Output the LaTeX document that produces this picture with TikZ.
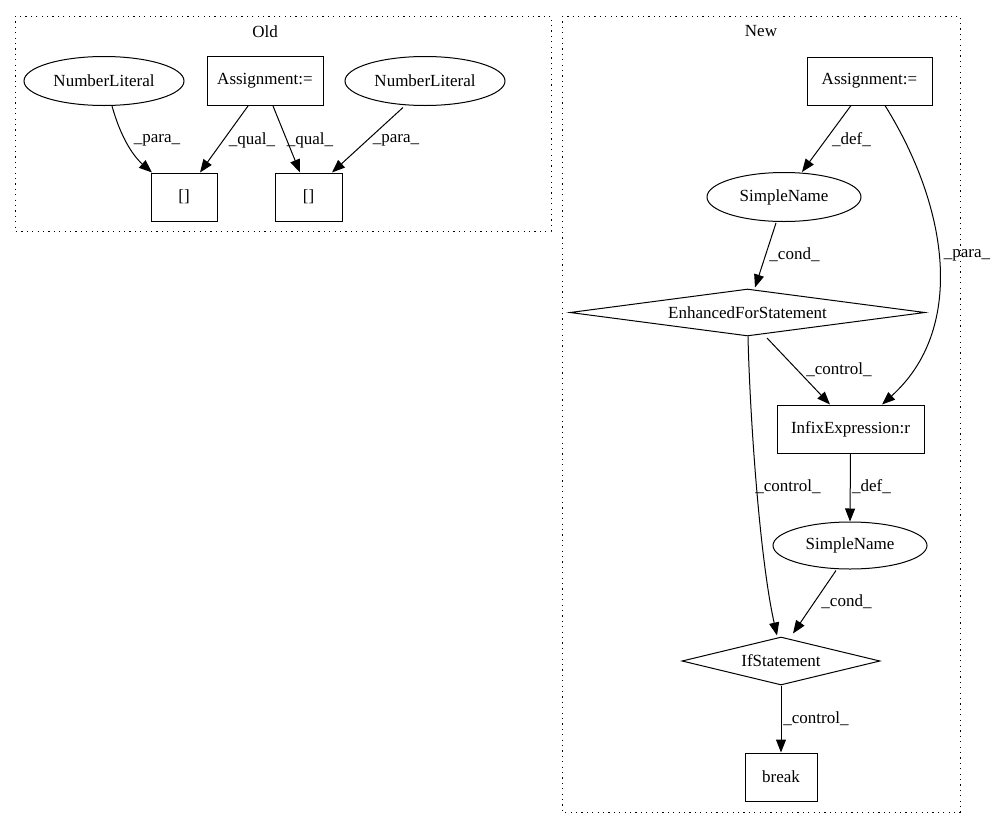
\documentclass[tikz,border=0pt]{standalone}
\usepackage{fontspec}
\setmainfont{Liberation Serif}
\usetikzlibrary{shapes.geometric,arrows.meta}
\begin{document}
\begin{tikzpicture}[x=1pt,y=-1pt,
  every node/.style={font=\fontsize{17}{19}\selectfont, inner sep=0pt},
  box/.style={draw, line width=1pt, rectangle},
  oval/.style={draw, line width=1pt, ellipse},
  dia/.style={draw, line width=1pt, diamond},
  edge/.style={line width=1pt, -{Triangle[length=13pt,width=10pt]}},
  lbl/.style={fill=none},
  cluster/.style={draw, line width=1pt, dash pattern=on 1.2pt off 4.2pt}
]
\useasboundingbox (0,0) rectangle (997,828);
\fill[white] (0,0) rectangle (997,828);
% clusters
\draw[cluster] (15,16) rectangle (551,231);
\node (oldlbl) at (265,32) {Old};
\draw[cluster] (562,16) rectangle (960,812);
\node (newlbl) at (761,31) {New};

% Old nodes
\node[oval, minimum width=160pt, minimum height=49pt] (nl1) at (104,81) {NumberLiteral};
\node[box, minimum width=116pt, minimum height=49pt] (asg1) at (265,81) {Assignment:=};
\node[oval, minimum width=160pt, minimum height=49pt] (nl2) at (425,81) {NumberLiteral};
\node[box, minimum width=66pt, minimum height=48pt] (b1) at (184,197) {[]};
\node[box, minimum width=67pt, minimum height=48pt] (b2) at (308.5,197) {[]};

% Old edges
\draw[edge] ([xshift=8pt]nl1.south) .. controls (120,135) and (132,155) .. ([xshift=-32pt]b1.north);
\draw[edge] ([xshift=-17pt]asg1.south) -- ([xshift=16pt]b1.north);
\draw[edge] ([xshift=8pt]asg1.south) -- ([xshift=-8.5pt]b2.north);
\draw[edge] ([xshift=-22pt,yshift=-1.5pt]nl2.south) -- ([xshift=23.5pt]b2.north);
\node[lbl] (l1) at (157,140) {\_para\_};
\node[lbl] (l2) at (252,140) {\_qual\_};
\node[lbl] (l3) at (310,140) {\_qual\_};
\node[lbl] (l4) at (396,140) {\_para\_};

% New nodes
\node[box, minimum width=125pt, minimum height=48pt] (asg2) at (869.5,81) {Assignment:=};
\node[oval, minimum width=154pt, minimum height=49pt] (sn1) at (784,197) {SimpleName};
\node[dia, shape aspect=7.5, minimum width=355pt, minimum height=47pt] (efs) at (747.5,312.5) {EnhancedForStatement};
\node[box, minimum width=147pt, minimum height=48pt] (inf) at (850.5,429) {InfixExpression:r};
\node[oval, minimum width=154pt, minimum height=47pt] (sn2) at (850,545.5) {SimpleName};
\node[dia, shape aspect=4.1, minimum width=198pt, minimum height=48pt] (ifs) at (781,661) {IfStatement};
\node[box, minimum width=72pt, minimum height=48pt] (brk) at (781,777) {break};

% New edges
\draw[edge] ([xshift=-18.5pt]asg2.south) -- ([xshift=18pt]sn1.north);
\draw[edge] ([xshift=15.5pt]asg2.south) .. controls (950,210) and (965,330) .. ([xshift=31.5pt]inf.north);
\draw[edge] ([xshift=-8pt,yshift=-1pt]sn1.south) -- ([xshift=7.5pt,yshift=1pt]efs.north);
\draw[edge] ([xshift=19.5pt,yshift=-1.5pt]efs.south) -- ([xshift=-20.5pt]inf.north);
\draw[edge] ([xshift=0.5pt]efs.south) .. controls (750,420) and (760,560) .. ([xshift=-4pt,yshift=1pt]ifs.north);
\draw[edge] (inf.south) -- (sn2.north);
\draw[edge] ([xshift=-14pt,yshift=-1pt]sn2.south) -- ([xshift=12pt,yshift=3pt]ifs.north);
\draw[edge] (ifs.south) -- (brk.north);

\node[lbl] (l5) at (851.5,140) {\_def\_};
\node[lbl] (l6) at (967,255) {\_para\_};
\node[lbl] (l7) at (794.5,255) {\_cond\_};
\node[lbl] (l8) at (839,370) {\_control\_};
\node[lbl] (l9) at (788,487) {\_control\_};
\node[lbl] (l10) at (871.5,487) {\_def\_};
\node[lbl] (l11) at (846.5,602) {\_cond\_};
\node[lbl] (l12) at (816,719) {\_control\_};
\end{tikzpicture}
\end{document}
